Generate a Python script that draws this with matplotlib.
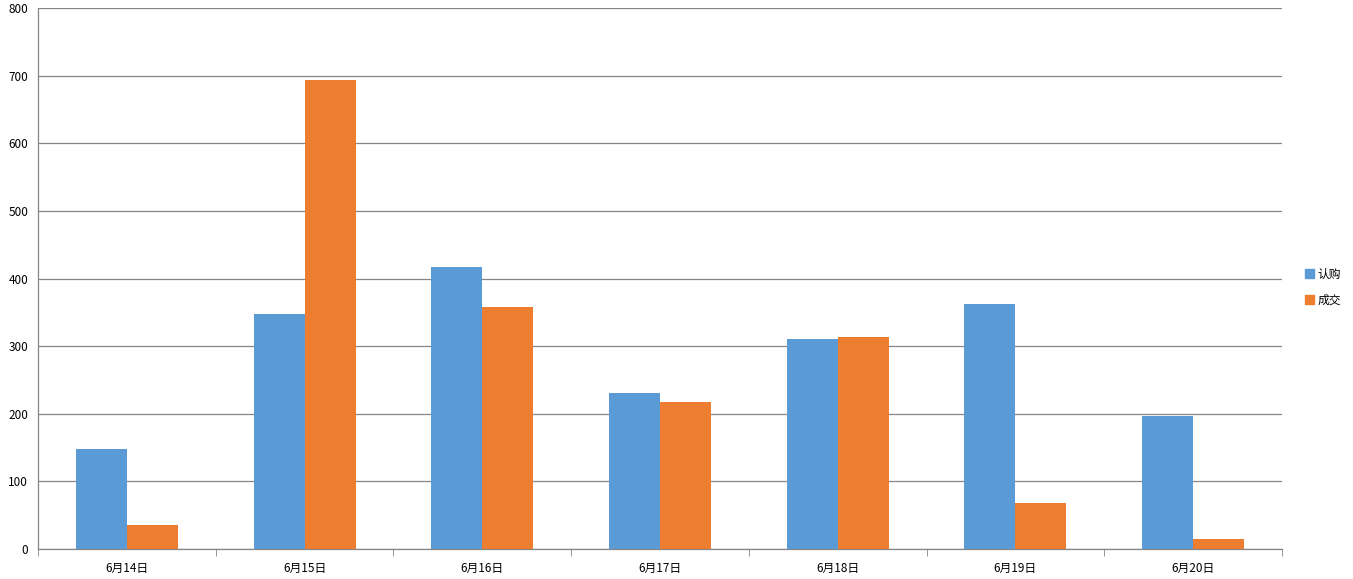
import numpy as np
import matplotlib; matplotlib.use("Agg")
import matplotlib.pyplot as plt
from matplotlib.patches import Patch

plt.rcParams['font.family'] = ['Noto Sans CJK SC', 'DejaVu Sans']

dates = ["6月14日", "6月15日", "6月16日", "6月17日", "6月18日", "6月19日", "6月20日"]
rengou = [148, 348, 417, 231, 311, 362, 197]
chengjiao = [35, 694, 358, 218, 314, 68, 15]
series_names = ["认购", "成交"]
colors = ["#5B9BD5", "#ED7D31"]

fig = plt.figure(figsize=(13.53, 5.79), dpi=100)
ax = fig.add_axes([38 / 1353, 30 / 579, 1244 / 1353, 541 / 579])

x = np.arange(len(dates))
w = 0.287
ax.bar(x - w / 2, rengou, w, color=colors[0], zorder=3)
ax.bar(x + w / 2, chengjiao, w, color=colors[1], zorder=3)

ax.set_xlim(-0.5, len(dates) - 0.5)
ax.set_ylim(0, 800)
ax.set_yticks(range(0, 801, 100))
ax.yaxis.grid(True, color="#868686", linewidth=0.9, zorder=0)
ax.tick_params(axis="y", length=0, labelsize=8.5, pad=7)
ax.set_xticks(x)
ax.set_xticklabels(dates, fontsize=8.5)
ax.tick_params(axis="x", which="major", length=0, pad=9)
ax.set_xticks(np.arange(-0.5, len(dates)), minor=True)
ax.tick_params(axis="x", which="minor", length=5, color="#868686", direction="out")
for s in ["top", "right"]:
    ax.spines[s].set_visible(False)
for s in ["left", "bottom"]:
    ax.spines[s].set_color("#868686")
    ax.spines[s].set_linewidth(0.9)

handles = [Patch(color=c) for c in colors]
fig.legend(handles, series_names, loc="center left", bbox_to_anchor=(1294 / 1353, 1 - 287 / 579),
           frameon=False, fontsize=8.5, handlelength=0.8, handleheight=0.8, handletextpad=0.3,
           labelspacing=1.1)

fig.savefig("out.png", dpi=100)
